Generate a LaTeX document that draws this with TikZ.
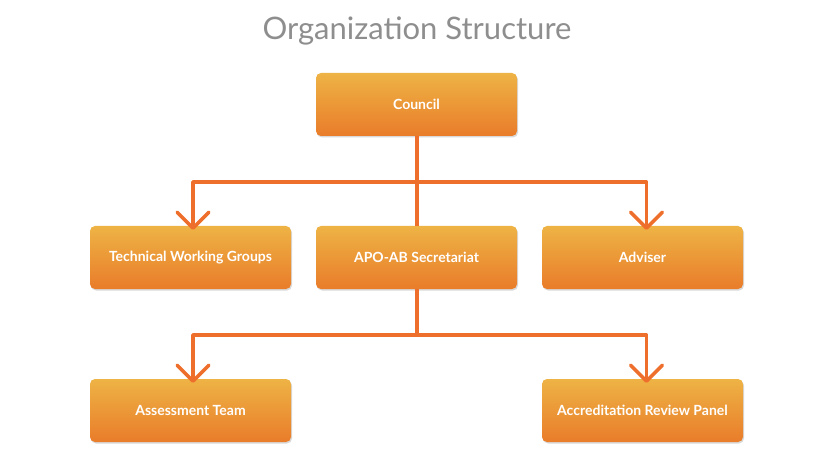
\documentclass[tikz,border=0pt]{standalone}
\usepackage{fontspec}
\setmainfont{Lato}
\usetikzlibrary{arrows.meta,shadows}
\definecolor{boxtop}{HTML}{EEB345}
\definecolor{boxbot}{HTML}{E97C2A}
\definecolor{linec}{HTML}{EE6E2C}
\definecolor{titlec}{HTML}{8E8E8E}
\tikzset{
  orgbox/.style={rectangle, rounded corners=5pt, minimum width=201pt, minimum height=63pt,
    top color=boxtop, bottom color=boxbot, draw=none, text=white,
    font=\fontsize{14}{16}\selectfont\bfseries,
    drop shadow={shadow xshift=1pt, shadow yshift=-1.5pt, opacity=0.25, fill=black!60}},
  link/.style={draw=linec, line width=3.5pt},
  arrowlink/.style={link, line join=round, -{Straight Barb[length=16pt,width=32pt,line width=3.5pt, round]}},
}
\begin{document}
\begin{tikzpicture}[x=1pt,y=-1pt]
\useasboundingbox (0,0) rectangle (839,468);
\node[text=titlec, font=\fontsize{31}{36}\selectfont] (title) at (417,31) {Organization Structure};
\node[orgbox] (council) at (416.5,104.5) {Council};
\node[orgbox] (twg) at (190.5,257.5) {Technical Working Groups};
\node[orgbox] (apo) at (416.5,257.5) {APO-AB Secretariat};
\node[orgbox] (adv) at (642.5,257.5) {Adviser};
\node[orgbox] (ass) at (190.5,410.5) {Assessment Team};
\node[orgbox] (arp) at (642.5,410.5) {Accreditation Review Panel};
\coordinate (j1) at (417,182);
\coordinate (j2) at (417,335);
\draw[link] (council.south -| j1) -- (apo.north -| j1);
\draw[arrowlink] (j1) -| ([xshift=2.5pt,yshift=-4pt]twg.north);
\draw[arrowlink] (j1) -| ([xshift=4pt,yshift=-4pt]adv.north);
\draw[link] (apo.south -| j2) -- (j2);
\draw[arrowlink] (j2) -| ([xshift=2.5pt,yshift=-4pt]ass.north);
\draw[arrowlink] (j2) -| ([xshift=4pt,yshift=-4pt]arp.north);
\end{tikzpicture}
\end{document}
